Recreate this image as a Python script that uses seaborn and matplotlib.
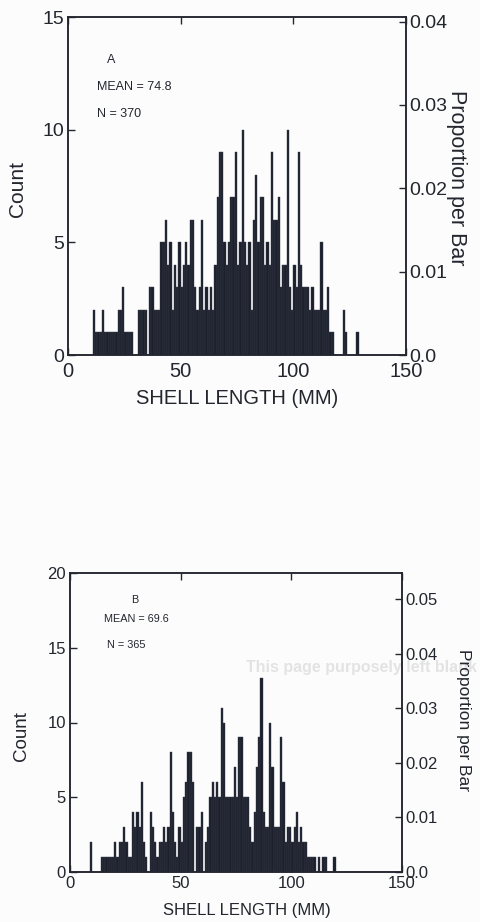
import numpy as np
import pandas as pd
import matplotlib
matplotlib.use("Agg")
import matplotlib.pyplot as plt
import seaborn as sns

# Shell-length frequency (1 mm classes): class start (mm) -> count
length_a = [11, 12, 13, 14, 15, 16, 17, 18, 19, 20, 21, 22, 23, 24, 25, 26, 27, 28,
            31, 32, 33, 34, 36, 37, 38, 39, 40, 41, 42, 43, 44, 45, 46, 47, 48, 49,
            50, 51, 52, 53, 54, 55, 56, 57, 58, 59, 60, 61, 62, 63, 64, 65, 66, 67,
            68, 69, 70, 71, 72, 73, 74, 75, 76, 77, 78, 79, 80, 81, 82, 83, 84, 85,
            86, 87, 88, 89, 90, 91, 92, 93, 94, 95, 96, 97, 98, 99, 100, 101, 102,
            103, 104, 105, 106, 107, 108, 109, 110, 111, 112, 113, 114, 115, 116,
            117, 122, 123, 128]
count_a = [2, 1, 1, 1, 2, 1, 1, 1, 1, 1, 1, 2, 2, 3, 1, 1, 1, 1,
           2, 2, 2, 2, 3, 3, 2, 2, 2, 5, 5, 6, 4, 5, 2, 4, 3, 5,
           3, 4, 5, 4, 6, 6, 3, 2, 3, 6, 2, 3, 2, 3, 2, 4, 7, 9,
           9, 5, 4, 5, 7, 7, 9, 4, 5, 10, 5, 4, 5, 2, 6, 8, 5, 7,
           7, 4, 5, 4, 9, 6, 6, 7, 3, 4, 4, 10, 3, 2, 4, 3, 9,
           4, 3, 3, 3, 2, 3, 2, 2, 2, 5, 2, 2, 3, 1,
           1, 2, 1, 1]

length_b = [9, 14, 15, 16, 17, 18, 19, 20, 21, 22, 23, 24, 25, 26, 27, 28, 29, 30,
            31, 32, 33, 34, 36, 37, 38, 39, 40, 41, 42, 43, 44, 45, 46, 47, 48, 49,
            50, 51, 52, 53, 54, 55, 57, 58, 59, 61, 62, 63, 64, 65, 66, 67, 68, 69,
            70, 71, 72, 73, 74, 75, 76, 77, 78, 79, 80, 81, 82, 83, 84, 85, 86, 87,
            88, 89, 90, 91, 92, 93, 94, 95, 96, 97, 98, 99, 100, 101, 102, 103, 104,
            105, 106, 107, 108, 109, 110, 112, 114, 115, 119]
count_b = [2, 1, 1, 1, 1, 1, 1, 2, 1, 2, 2, 3, 2, 1, 1, 4, 3, 4,
           3, 6, 2, 1, 4, 3, 2, 1, 2, 2, 3, 2, 3, 8, 4, 2, 1, 3,
           2, 5, 6, 8, 8, 6, 3, 3, 4, 2, 3, 5, 6, 5, 6, 5, 11, 10,
           5, 5, 5, 5, 7, 5, 9, 9, 5, 5, 5, 3, 2, 4, 7, 9, 13, 4,
           3, 3, 10, 7, 3, 3, 3, 9, 6, 2, 3, 3, 2, 3, 4, 2, 3,
           2, 2, 1, 1, 1, 1, 1, 1, 1, 1]

x_ticks = [0, 50, 100, 150]

panels = [
    dict(length=length_a, count=count_a, tag="A", mean="MEAN = 74.8", n_text="N = 370",
         n=370, ymax=15, yticks=[0, 5, 10, 15], pticks=[0.0, 0.01, 0.02, 0.03, 0.04],
         rect=[68 / 480, 1 - 355 / 922, 338 / 480, 338 / 922],
         fs_xtick=14.5, fs_ytick=14, fs_x=14.5, fs_count=15, fs_prop=15.5, fs_small=9,
         xpad=5, xlab=(0.50, -0.130), clab=(-0.148, 0.491), plab=(1.148, 0.524),
         tag_xy=(17.5, 13.1), mean_xy=(12.8, 11.9), n_xy=(12.8, 10.7)),
    dict(length=length_b, count=count_b, tag="B", mean="MEAN = 69.6", n_text="N = 365",
         n=365, ymax=20, yticks=[0, 5, 10, 15, 20],
         pticks=[0.0, 0.01, 0.02, 0.03, 0.04, 0.05],
         rect=[70 / 480, 1 - 872 / 922, 332 / 480, 299 / 922],
         fs_xtick=12, fs_ytick=12, fs_x=12, fs_count=13.5, fs_prop=12.5, fs_small=7.8,
         xpad=3, xlab=(0.533, -0.130), clab=(-0.145, 0.455), plab=(1.184, 0.508),
         tag_xy=(27.5, 18.2), mean_xy=(15.2, 16.9), n_xy=(16.5, 15.2)),
]

sns.set_style("ticks")
plt.rcParams["font.family"] = ["Liberation Sans", "DejaVu Sans"]

ink = "#23262e"
bar_color = "#1c202d"

fig = plt.figure(figsize=(4.8, 9.22), dpi=100)
fig.patch.set_facecolor("#fcfcfc")

for p in panels:
    ax = fig.add_axes(p["rect"])
    ax.set_facecolor("none")
    df = pd.DataFrame({"length": np.array(p["length"], dtype=float) + 0.5,
                       "count": np.array(p["count"], dtype=float)})
    sns.histplot(data=df, x="length", weights="count", binwidth=1, binrange=(0, 150),
                 ax=ax, color=bar_color, alpha=1.0, edgecolor="#3a3e4a", linewidth=0.3)
    ax.set_xlim(0, 150)
    ax.set_ylim(0, p["ymax"])
    ax.set_xticks(x_ticks)
    ax.set_yticks(p["yticks"])
    ax.set_xlabel("SHELL LENGTH (MM)", fontsize=p["fs_x"], color=ink, va="center")
    ax.xaxis.set_label_coords(*p["xlab"])
    ax.set_ylabel("Count", fontsize=p["fs_count"], color=ink, va="center")
    ax.yaxis.set_label_coords(*p["clab"])
    ax.tick_params(axis="x", direction="in", length=5, width=1, colors=ink,
                   labelsize=p["fs_xtick"], top=True, pad=p["xpad"])
    ax.tick_params(axis="y", direction="in", length=5, width=1, colors=ink,
                   labelsize=p["fs_ytick"], right=False, pad=3)
    for s in ax.spines.values():
        s.set_color(ink)
        s.set_linewidth(1.1)

    # proportion-per-bar scale on the right
    ax2 = ax.twinx()
    ax2.set_ylim(0, p["ymax"] / p["n"])
    ax2.set_yticks(p["pticks"])
    ax2.set_yticklabels(["0.0"] + [f"{t:.2f}" for t in p["pticks"][1:]])
    ax2.tick_params(axis="y", direction="in", length=5, width=1, colors=ink,
                    labelsize=p["fs_ytick"], pad=2.5)
    ax2.set_ylabel("Proportion per Bar", fontsize=p["fs_prop"], color=ink,
                   rotation=270, va="center")
    ax2.yaxis.set_label_coords(*p["plab"])
    for s in ax2.spines.values():
        s.set_color(ink)
        s.set_linewidth(1.1)

    for xy, txt in ((p["tag_xy"], p["tag"]), (p["mean_xy"], p["mean"]),
                    (p["n_xy"], p["n_text"])):
        ax.text(*xy, txt, fontsize=p["fs_small"], color=ink, ha="left", va="center")

# faint show-through from the facing page
fig.text(361 / 480, 1 - 667 / 922, "This page purposely left blank", fontsize=11.5,
         fontweight="bold", color="#e3e3e3", ha="center", va="center", zorder=-1)

fig.savefig("out.png", dpi=100, facecolor=fig.get_facecolor())
